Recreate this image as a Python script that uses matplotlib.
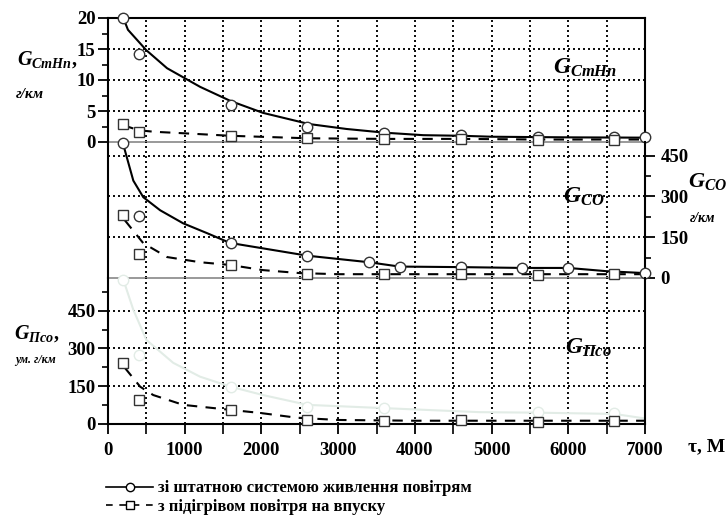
import matplotlib
matplotlib.use("Agg")
import matplotlib.pyplot as plt
from matplotlib.lines import Line2D
from matplotlib.ticker import MultipleLocator

plt.rcParams['font.family'] = ['Liberation Serif', 'DejaVu Serif']
plt.rcParams['font.weight'] = 'bold'
plt.rcParams['mathtext.fontset'] = 'custom'
plt.rcParams['mathtext.it'] = 'Liberation Serif:italic:bold'
plt.rcParams['mathtext.rm'] = 'Liberation Serif:bold'
plt.rcParams['mathtext.bf'] = 'Liberation Serif:bold'

# ---------------- data ----------------
x_circ = [200, 400, 1600, 2600, 3600, 4600, 5600, 6600, 7000]
x_sq = [200, 400, 1600, 2600, 3600, 4600, 5600, 6600]

# G CmHn (g/km)
cmhn_circ = [20, 14.2, 6.0, 2.5, 1.4, 1.1, 0.8, 0.8, 0.8]
cmhn_sq = [2.9, 1.6, 1.0, 0.6, 0.5, 0.5, 0.4, 0.4]
cmhn_line_x = [200, 260, 500, 770, 1200, 1600, 2020, 2620, 3110, 3610, 4110, 4620, 5000, 6000, 7000]
cmhn_line_y = [20, 18.1, 14.8, 11.9, 8.9, 6.6, 4.7, 2.9, 2.1, 1.5, 1.1, 1.0, 0.85, 0.75, 0.7]
cmhn_dash_x = [200, 400, 600, 1000, 1600, 2600, 3600, 4600, 5600, 6600, 7000]
cmhn_dash_y = [2.7, 1.9, 1.65, 1.4, 1.0, 0.6, 0.5, 0.5, 0.4, 0.4, 0.4]

# G CO (g/km)
co_circ_x = [200, 400, 1600, 2600, 3400, 3800, 4600, 5400, 6000, 7000]
co_circ = [495, 227, 128, 82, 58, 40, 40, 37, 37, 18]
co_sq = [230, 88, 48, 15, 15, 15, 11, 15]
co_line_x = [200, 245, 330, 460, 680, 980, 1290, 1590, 2600, 3400, 3800, 4600, 5400, 6000, 6500, 7000]
co_line_y = [490, 444, 358, 297, 249, 201, 165, 129, 82, 58, 42, 40, 37, 37, 25, 18]
co_dash_x = [220, 460, 770, 1200, 1590, 2020, 2500, 3000, 4000, 5000, 6000, 7000]
co_dash_y = [212, 128, 77, 58, 48, 29, 18, 14, 14, 14, 14, 14]

# G Pco (conv. g/km)
pco_ghost_x = [200, 400, 1600, 2600, 3600, 5600, 6600]
pco_ghost = [573, 275, 148, 69, 65, 49, 44]
pco_ghost_line_x = [200, 330, 500, 850, 1200, 1600, 2020, 2600, 3600, 4850, 5600, 6600, 7000]
pco_ghost_line_y = [573, 454, 334, 243, 188, 148, 115, 76, 63, 47, 45, 40, 22]
pco_sq = [241, 95, 56, 16, 13, 16, 9, 13]
pco_dash_x = [220, 420, 590, 980, 1600, 1980, 2460, 3000, 4000, 5000, 6000, 7000]
pco_dash_y = [223, 148, 115, 76, 56, 44, 25, 16, 13, 13, 13, 13]

legend_labels = ['зі штатною системою живлення повітрям', 'з підігрівом повітря на впуску']

# ---------------- figure ----------------
W, H = 728, 517
fig = plt.figure(figsize=(W / 100, H / 100), dpi=100)

def fx(x):
    return x / W

def fy(y):
    return 1 - y / H

left, right = 108, 645
ax1 = fig.add_axes([fx(left), fy(142), fx(right - left), (142 - 18) / H])
ax2 = fig.add_axes([fx(left), fy(278), fx(right - left), (278 - 142) / H])
ax3 = fig.add_axes([fx(left), fy(424), fx(right - left), (424 - 278) / H])

ghost = '#e2ece6'
grid_kw = dict(color='#111111', lw=1.1, ls=(0, (1.2, 2.2)), antialiased=False)
solid_kw = dict(color='k', lw=1.5)
dash_kw = dict(color='k', lw=1.5, ls=(0, (5, 4)))
circ_kw = dict(ls='none', marker='o', ms=7.5, mfc='white', mec='#333333', mew=1.0, clip_on=False, zorder=5)
sq_kw = dict(ls='none', marker='s', ms=7, mfc='white', mec='#333333', mew=1.0, clip_on=False, zorder=5)

for ax in (ax1, ax2, ax3):
    ax.set_xlim(0, 7000)
    ax.xaxis.set_major_locator(MultipleLocator(1000))
    ax.xaxis.set_minor_locator(MultipleLocator(500))
    for v in range(500, 7000, 500):
        ax.axvline(v, **grid_kw, zorder=1)
    ax.set_facecolor('none')
    for s in ax.spines.values():
        s.set_linewidth(1.5)

# top panel
ax1.set_ylim(0, 20)
ax1.yaxis.set_major_locator(MultipleLocator(5))
ax1.yaxis.set_minor_locator(MultipleLocator(2.5))
for v in (5, 10, 15):
    ax1.axhline(v, **grid_kw, zorder=1)
ax1.plot(cmhn_line_x, cmhn_line_y, **solid_kw, zorder=3)
ax1.plot(cmhn_dash_x, cmhn_dash_y, **dash_kw, zorder=3)
ax1.plot(x_circ, cmhn_circ, **circ_kw)
ax1.plot(x_sq, cmhn_sq, **sq_kw)
ax1.spines['bottom'].set_color('#888888')
ax1.spines['bottom'].set_linewidth(1.2)
ax1.tick_params(axis='x', which='both', bottom=False, labelbottom=False)
ax1.tick_params(axis='y', which='major', direction='out', length=7, width=1.3, labelsize=13.5, pad=2)
ax1.tick_params(axis='y', which='minor', direction='out', length=4, width=1.2)

# middle panel
ax2.set_ylim(0, 500)
ax2.yaxis.set_major_locator(MultipleLocator(150))
ax2.yaxis.set_minor_locator(MultipleLocator(75))
for v in (150, 300, 450):
    ax2.axhline(v, **grid_kw, zorder=1)
ax2.plot(co_line_x, co_line_y, **solid_kw, zorder=3)
ax2.plot(co_dash_x, co_dash_y, **dash_kw, zorder=3)
ax2.plot(co_circ_x, co_circ, **circ_kw)
ax2.plot(x_sq, co_sq, **sq_kw)
ax2.spines['top'].set_visible(False)
ax2.spines['bottom'].set_color('#888888')
ax2.spines['bottom'].set_linewidth(1.2)
ax2.yaxis.tick_right()
ax2.tick_params(axis='x', which='both', bottom=False, labelbottom=False)
ax2.tick_params(axis='y', which='major', direction='out', length=7, width=1.3, labelsize=13.5, pad=4)
ax2.tick_params(axis='y', which='minor', direction='out', length=4, width=1.2)

# bottom panel
ax3.set_ylim(0, 580)
ax3.yaxis.set_major_locator(MultipleLocator(150))
ax3.yaxis.set_minor_locator(MultipleLocator(75))
for v in (150, 300, 450):
    ax3.axhline(v, **grid_kw, zorder=1)
ax3.plot(pco_ghost_line_x, pco_ghost_line_y, color=ghost, lw=1.5, zorder=2)
ax3.plot(pco_ghost_x, pco_ghost, ls='none', marker='o', ms=7.5, mfc='white', mec=ghost,
         mew=1.0, clip_on=False, zorder=2)
ax3.plot(pco_dash_x, pco_dash_y, **dash_kw, zorder=3)
ax3.plot(x_sq, pco_sq, **sq_kw)
ax3.spines['top'].set_visible(False)
ax3.tick_params(axis='x', which='major', direction='out', length=7, width=1.3, labelsize=13.5, pad=6)
ax3.tick_params(axis='x', which='minor', direction='out', length=7, width=1.2)
ax3.tick_params(axis='y', which='major', direction='out', length=7, width=1.3, labelsize=13.5, pad=2)
ax3.tick_params(axis='y', which='minor', direction='out', length=4, width=1.2)

for ax in (ax1, ax2, ax3):
    for lab in ax.get_xticklabels() + ax.get_yticklabels():
        lab.set_fontweight('bold')

# ---------------- labels ----------------
fig.text(fx(17), fy(60), r'$G_{CmHn},$', fontsize=14.5, va='center', ha='left')
fig.text(fx(16), fy(95), 'г/км', fontsize=11, style='italic', weight='bold', va='center', ha='left')
fig.text(fx(553), fy(68), r'$G_{CmHn}$', fontsize=17, va='center', ha='left')
fig.text(fx(563), fy(197), r'$G_{CO}$', fontsize=17, va='center', ha='left')
fig.text(fx(688), fy(182), r'$G_{CO}$', fontsize=16, va='center', ha='left')
fig.text(fx(690), fy(218), 'г/км', fontsize=10, style='italic', weight='bold', va='center', ha='left')
fig.text(fx(14), fy(334), r'$G_{Пco},$', fontsize=14.5, va='center', ha='left')
fig.text(fx(15), fy(360), 'ум. г/км', fontsize=8.5, style='italic', weight='bold', va='center', ha='left')
fig.text(fx(565), fy(348), r'$G_{Пco}$', fontsize=17, va='center', ha='left')
fig.text(fx(688), fy(447), 'τ, М', fontsize=14, weight='bold', va='center', ha='left')

handles = [
    Line2D([], [], color='k', lw=1.2, marker='o', ms=6, mfc='white', mec='k'),
    Line2D([], [], color='k', lw=1.2, ls=(0, (4, 4)), marker='s', ms=6, mfc='white', mec='k'),
]
fig.legend(handles, legend_labels, loc='upper left', bbox_to_anchor=(fx(98), fy(472)),
           frameon=False, handlelength=2.8, handletextpad=0.3,
           labelspacing=0.15, borderpad=0, prop={'weight': 'bold', 'size': 12})

fig.savefig('out.png', dpi=100)
